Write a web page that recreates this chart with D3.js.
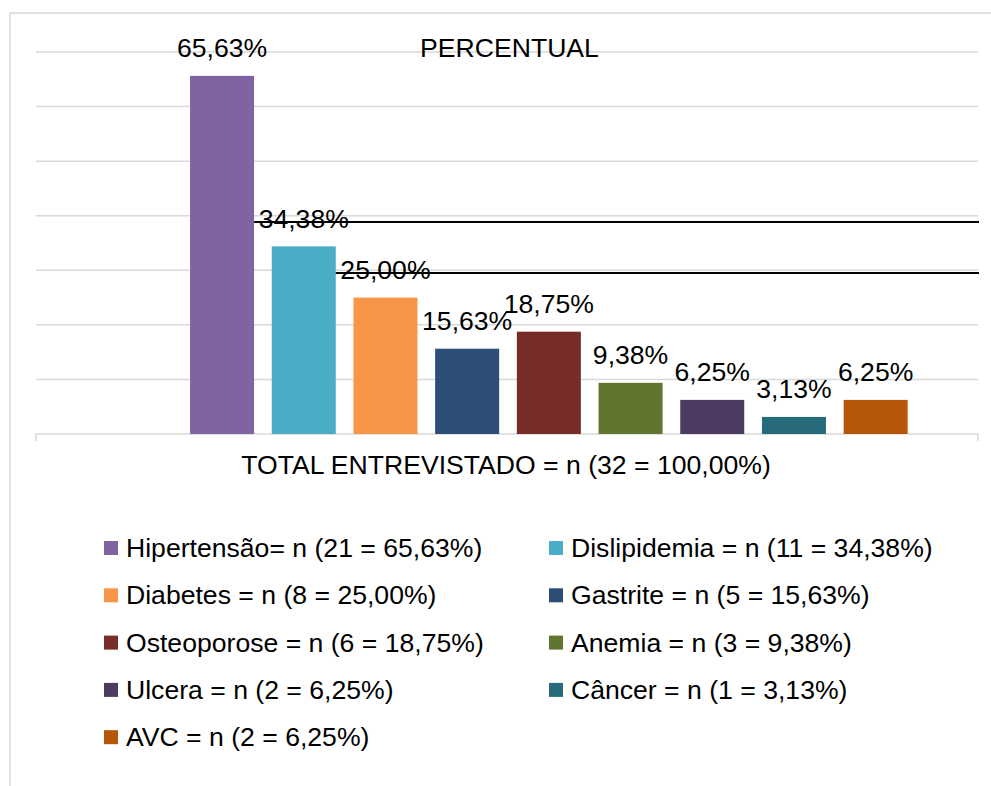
<!DOCTYPE html>
<html><head><meta charset="utf-8">
<script src="https://cdn.jsdelivr.net/npm/d3@7"></script>
<style>body{margin:0;background:#fff}svg{display:block}text{font-family:"Liberation Sans",Arial,sans-serif;fill:#000}</style>
</head><body><svg id="c" width="991" height="786"></svg>
<script>
const categories = ["Hipertensão","Dislipidemia","Diabetes","Gastrite","Osteoporose","Anemia","Ulcera","Câncer","AVC"];
const values = [65.63,34.38,25.00,15.63,18.75,9.38,6.25,3.13,6.25];
const valueLabels = ["65,63%","34,38%","25,00%","15,63%","18,75%","9,38%","6,25%","3,13%","6,25%"];
const legendLabels = ["Hipertensão= n (21 = 65,63%)","Dislipidemia = n (11 = 34,38%)","Diabetes = n (8 = 25,00%)","Gastrite = n (5 = 15,63%)","Osteoporose = n (6 = 18,75%)","Anemia = n (3 = 9,38%)","Ulcera = n (2 = 6,25%)","Câncer = n (1 = 3,13%)","AVC = n (2 = 6,25%)"];
const colors = ["#8064A2","#4BACC6","#F79646","#2C4D75","#772C2A","#5F7530","#4D3B62","#276A7C","#B65708"];
const yTicks = [0,10,20,30,40,50,60,70];
const title = "PERCENTUAL";
const axisTitle = "TOTAL ENTREVISTADO = n (32 = 100,00%)";
const struckLabels = [1,2]; // labels crossed by a black line in the original

const svg = d3.select("#c");
const FS = 26.6;
// outer frame
svg.append("rect").attr("x",10).attr("y",13).attr("width",1000).attr("height",800)
  .attr("fill","none").attr("stroke","#d9d9d9").attr("stroke-width",1.5);

const plotL = 36, plotR = 978;
const y = d3.scaleLinear().domain([0,70]).range([434,52]);
const x = d3.scaleBand().domain(["_empty"].concat(categories)).range([99.5,916.5]).paddingInner(0.2166).paddingOuter(0.1083);

// gridlines
svg.append("g").selectAll("line").data(yTicks.filter(d=>d>0)).join("line")
  .attr("x1",plotL).attr("x2",plotR).attr("y1",d=>y(d)).attr("y2",d=>y(d))
  .attr("stroke","#d9d9d9").attr("stroke-width",1.5);
// baseline with end ticks
const base = y(0);
svg.append("path").attr("d",`M${plotL},${base+7}V${base}H${plotR}V${base+7}`)
  .attr("fill","none").attr("stroke","#d9d9d9").attr("stroke-width",1.5);

// bars
svg.append("g").selectAll("rect").data(categories).join("rect")
  .attr("x",d=>x(d)).attr("width",x.bandwidth())
  .attr("y",(d,i)=>y(values[i])).attr("height",(d,i)=>base-y(values[i]))
  .attr("fill",(d,i)=>colors[i]);

// value labels
svg.append("g").selectAll("text").data(categories).join("text")
  .attr("x",d=>x(d)+x.bandwidth()/2).attr("y",(d,i)=>y(values[i])-18.5)
  .attr("text-anchor","middle").attr("font-size",FS).text((d,i)=>valueLabels[i]);

// black strike lines through some labels
struckLabels.forEach(i=>{
  const prev = categories[i-1];
  svg.append("line").attr("x1",x(prev)+x.bandwidth()).attr("x2",plotR+1)
    .attr("y1",y(values[i])-24.5).attr("y2",y(values[i])-24.5)
    .attr("stroke","#000").attr("stroke-width",2);
});

// title
svg.append("text").attr("x",509.5).attr("y",57).attr("text-anchor","middle").attr("font-size",FS).text(title);
svg.append("text").attr("x",506).attr("y",474).attr("text-anchor","middle").attr("font-size",FS).text(axisTitle);

// legend
const colX = [104,549], row0 = 548, rowStep = 47.3;
const lg = svg.append("g").selectAll("g").data(legendLabels).join("g")
  .attr("transform",(d,i)=>`translate(${colX[i%2]},${row0+Math.floor(i/2)*rowStep})`);
lg.append("rect").attr("x",0).attr("y",-7).attr("width",14).attr("height",14).attr("fill",(d,i)=>colors[i]);
lg.append("text").attr("x",22).attr("y",9).attr("font-size",FS).text(d=>d);
</script></body></html>
